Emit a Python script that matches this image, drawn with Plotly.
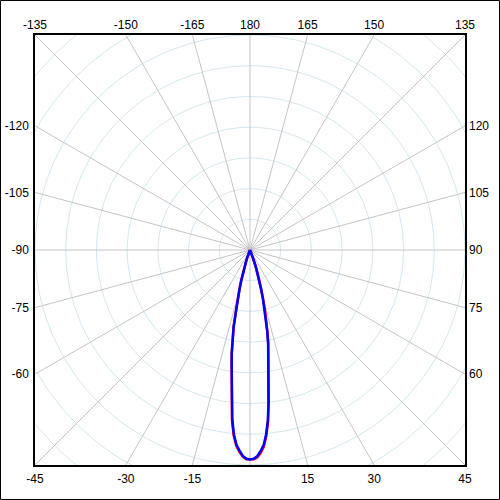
import numpy as np
import plotly.graph_objects as go

# beam angles (deg, 0 = straight down) and intensities for the two planes
angles = [-26, -24, -22, -20, -19, -18, -17, -16, -15, -14, -13, -12, -11, -10, -9, -8, -7, -6, -5, -4, -3, -2, -1,
          0, 1, 2, 3, 4, 5, 6, 7, 8, 9, 10, 11, 12, 13, 14, 15, 16, 17, 18, 19, 20, 22, 24, 26]
red_values = [0, 3, 11, 27, 40, 58, 80, 105, 135, 168, 201, 258, 301, 343, 382, 429, 492, 560, 607, 639, 658, 673, 681,
              682, 681, 676, 662, 642, 608, 562, 498, 432, 386, 347, 311, 273, 232, 200, 162, 131, 105, 79, 60, 43, 21, 7, 0]
blue_values = [0, 3, 10, 26, 39, 57, 78, 101, 130, 163, 199, 257, 300, 342, 381, 427, 488, 553, 602, 635, 654, 671, 680,
               682, 680, 672, 656, 637, 602, 557, 495, 430, 384, 345, 309, 270, 228, 195, 160, 130, 104, 78, 59, 42, 20, 7, 0]

grid_radii = [100, 200, 300, 400, 500, 600, 700, 800, 900, 1000]
spoke_angles = list(range(-180, 180, 15))
bottom_labels = [-45, -30, -15, 15, 30, 45]
top_labels = [-135, -150, -165, 180, 165, 150, 135]
left_labels = [-120, -105, -90, -75, -60]
right_labels = [120, 105, 90, 75, 60]

R_MAX = 700


def to_xy(theta_deg, r):
    t = np.radians(np.asarray(theta_deg, dtype=float))
    r = np.asarray(r, dtype=float)
    return r * np.sin(t), -r * np.cos(t)


fig = go.Figure()

# concentric circles
cx, cy = [], []
phi = np.linspace(0, 360, 361)
for rad in grid_radii:
    x, y = to_xy(phi, np.full_like(phi, rad))
    cx += list(x) + [None]
    cy += list(y) + [None]
fig.add_trace(go.Scatter(x=cx, y=cy, mode="lines", line=dict(color="#d2e8ef", width=1),
                         hoverinfo="skip", showlegend=False))

# radial spokes
sx, sy = [], []
for a in spoke_angles:
    x, y = to_xy([a, a], [0, 1000])
    sx += list(x) + [None]
    sy += list(y) + [None]
fig.add_trace(go.Scatter(x=sx, y=sy, mode="lines", line=dict(color="#c4c4c4", width=1),
                         hoverinfo="skip", showlegend=False))

# beam curves (drawn on the overlay axes so they sit above the grid)
for vals, color in [(red_values, "red"), (blue_values, "blue")]:
    x, y = to_xy(angles, vals)
    fig.add_trace(go.Scatter(x=x, y=y, mode="lines", line=dict(color=color, width=2.5),
                             xaxis="x2", yaxis="y2", showlegend=False))

tick_font = dict(family="Liberation Sans", size=12, color="black")
common = dict(range=[-R_MAX, R_MAX], showgrid=False, zeroline=False, ticks="", tickfont=tick_font,
              tickmode="array", fixedrange=True, automargin=False)

fig.update_layout(
    width=500,
    height=500,
    margin=dict(l=35, r=35, t=35, b=35),
    plot_bgcolor="white",
    paper_bgcolor="white",
    showlegend=False,
    xaxis=dict(**common, side="bottom", showline=True, mirror=True, linecolor="black", linewidth=1.5,
               tickvals=[R_MAX * np.tan(np.radians(a)) for a in bottom_labels],
               ticktext=[str(a) for a in bottom_labels], ticklabelstandoff=2),
    yaxis=dict(**common, side="left", showline=True, mirror=True, linecolor="black", linewidth=1.5,
               tickvals=[R_MAX / np.tan(np.radians(a)) for a in left_labels],
               ticktext=[str(a) for a in left_labels], ticklabelstandoff=2),
    xaxis2=dict(**common, side="top", overlaying="x",
                tickvals=[-R_MAX * np.tan(np.radians(a)) for a in top_labels],
                ticktext=[str(a) for a in top_labels], ticklabelstandoff=3),
    yaxis2=dict(**common, side="right", overlaying="y",
                tickvals=[-R_MAX / np.tan(np.radians(a)) for a in right_labels],
                ticktext=[str(a) for a in right_labels], ticklabelstandoff=3),
    shapes=[dict(type="rect", xref="paper", yref="paper",
                 x0=-34.5 / 430, x1=1 + 34.5 / 430, y0=-34.5 / 430, y1=1 + 34.5 / 430,
                 line=dict(color="black", width=1))],
)

fig.write_html("out.html", config={"displayModeBar": False},
               post_script="document.body.style.margin = '0';")
